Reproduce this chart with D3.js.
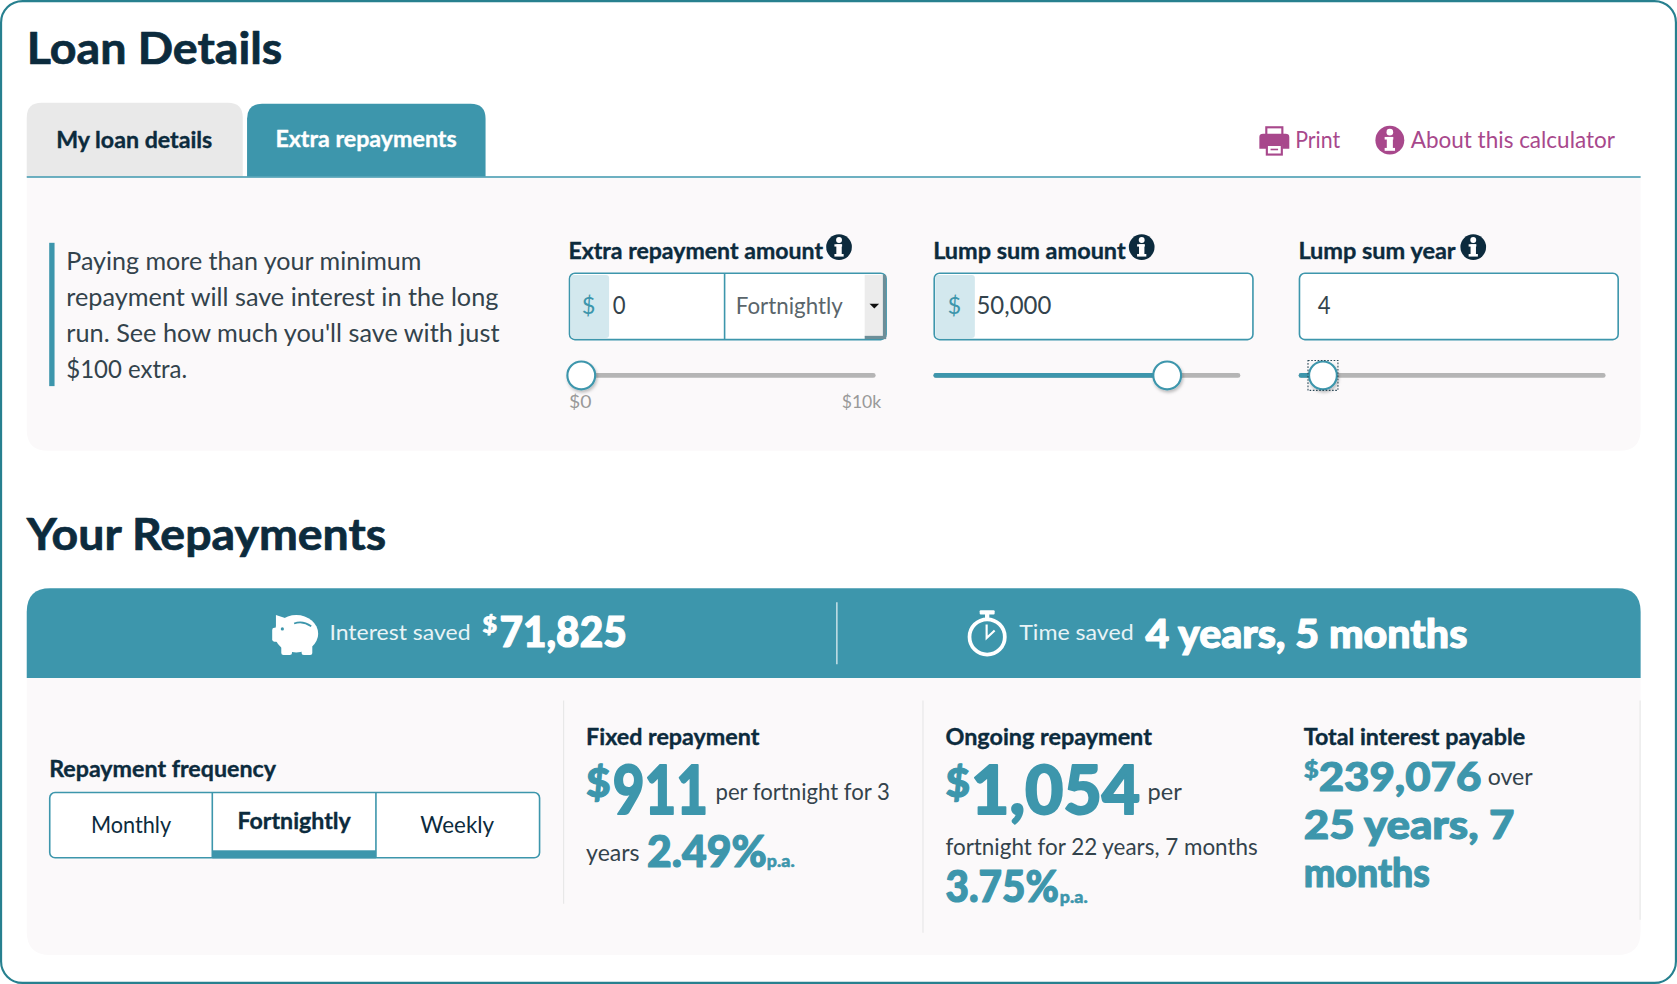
<!DOCTYPE html>
<html>
<head>
<meta charset="utf-8">
<title>Loan Details</title>
<script src="https://cdn.jsdelivr.net/npm/d3@7"></script>
<style>
  html, body { margin: 0; padding: 0; background: #fff; }
  svg { display: block; }
  text { font-family: Lato, "Open Sans", sans-serif; }
</style>
</head>
<body>
<div id="chart"></div>
<script>
// values
var tabNames = ["My loan details", "Extra repayments"];
var linkNames = ["Print", "About this calculator"];
var introLines = [
  "Paying more than your minimum",
  "repayment will save interest in the long",
  "run. See how much you'll save with just",
  "$100 extra."
];
var fieldNames = ["Extra repayment amount", "Lump sum amount", "Lump sum year"];
var fieldValues = [0, 50000, 4];
var sliderMins = [0, 0, 3];
var sliderMaxes = [10000, 63700, 27];
var sliderEnds = ["$0", "$10k"];
var frequencies = ["Monthly", "Fortnightly", "Weekly"];
var interestSaved = 71825;
var timeSaved = "4 years, 5 months";
var fixedRepayment = 911;
var fixedRate = 2.49;
var ongoingRepayment = 1054;
var ongoingRate = 3.75;
var totalInterest = 239076;
var totalTerm = ["25 years, 7", "months"];

var teal = "#3d96ac";
var navy = "#0c2b3d";
var body = "#33434c";
var pink = "#a8488c";
var panel = "#fbf9fa";
var money = d3.format(",");

// everything below is laid out on the 1568 wide grid
var svg = d3.select("#chart").append("svg")
  .attr("width", 1677)
  .attr("height", 984)
  .attr("viewBox", "0 0 1568 920");

var defs = svg.append("defs");
defs.append("filter").attr("id", "knob")
  .attr("x", "-40%").attr("y", "-40%").attr("width", "180%").attr("height", "180%")
  .append("feDropShadow")
  .attr("dx", 1).attr("dy", 2).attr("stdDeviation", 1.5)
  .attr("flood-color", "#000").attr("flood-opacity", 0.25);

function label(str, x, y, w, size, weight, fill) {
  var t = svg.append("text")
    .attr("x", x)
    .attr("y", y)
    .attr("font-size", size)
    .attr("font-weight", weight)
    .attr("fill", fill)
    .text(str);
  if (w) t.attr("textLength", w).attr("lengthAdjust", "spacingAndGlyphs");
  // Lato stops short of the reference's weight, so fatten the heavy texts
  if (weight > 400) {
    t.attr("stroke", fill)
      .attr("stroke-width", size * (weight > 700 ? 0.028 : 0.016))
      .attr("stroke-linejoin", "round");
  }
  return t;
}

function box(x, y, w, h, fill, r) {
  return svg.append("rect")
    .attr("x", x).attr("y", y).attr("width", w).attr("height", h)
    .attr("rx", r || 0)
    .attr("fill", fill);
}

// rectangle with only the top or bottom corners rounded
function halfRound(x, y, w, h, r, top) {
  if (top) {
    return `M${x},${y + h}V${y + r}Q${x},${y} ${x + r},${y}H${x + w - r}Q${x + w},${y} ${x + w},${y + r}V${y + h}Z`;
  }
  return `M${x},${y}H${x + w}V${y + h - r}Q${x + w},${y + h} ${x + w - r},${y + h}H${x + r}Q${x},${y + h} ${x},${y + h - r}Z`;
}

function infoIcon(cx, cy, r, fill) {
  svg.append("circle").attr("cx", cx).attr("cy", cy).attr("r", r).attr("fill", fill);
  svg.append("circle").attr("cx", cx).attr("cy", cy - r * 0.55).attr("r", r * 0.23).attr("fill", "#fff");
  box(cx - r * 0.21, cy - r * 0.22, r * 0.42, r * 0.9, "#fff");
  box(cx - r * 0.36, cy - r * 0.22, r * 0.6, r * 0.18, "#fff");
  box(cx - r * 0.36, cy + r * 0.54, r * 0.72, r * 0.2, "#fff");
}

// outer frame
svg.append("rect")
  .attr("x", 1).attr("y", 1).attr("width", 1566).attr("height", 918)
  .attr("rx", 20)
  .attr("fill", "#fff")
  .attr("stroke", "#27808f")
  .attr("stroke-width", 2);

label("Loan Details", 25, 60, 239, 41, 700, navy);

// tabs
svg.append("path").attr("d", halfRound(25, 96, 202, 69, 14, true)).attr("fill", "#e9e9e9");
svg.append("path").attr("d", halfRound(231, 97, 223, 68, 14, true)).attr("fill", teal);
label(tabNames[0], 52.5, 138, 146, 20.5, 700, navy);
label(tabNames[1], 257.5, 137.5, 169.5, 20.5, 700, "#fff");

// print icon
box(1184, 119, 15, 8, "none").attr("stroke", pink).attr("stroke-width", 2);
svg.append("path")
  .attr("d", "M1181,125H1202Q1205.5,125 1205.5,128V139H1199V135H1184V139H1177.5V128Q1177.5,125 1181,125Z")
  .attr("fill", pink);
box(1184.5, 135.5, 14, 9, "#fff").attr("stroke", pink).attr("stroke-width", 2);
box(1188, 139, 7, 1.5, pink);
label(linkNames[0], 1211, 138, 42, 21.5, 400, pink);
infoIcon(1299.5, 131, 13.5, pink);
label(linkNames[1], 1319, 138, 191, 21.5, 400, pink);

svg.append("line")
  .attr("x1", 25).attr("x2", 1534).attr("y1", 165.5).attr("y2", 165.5)
  .attr("stroke", teal).attr("stroke-width", 1.5);

// upper panel
svg.append("path").attr("d", halfRound(25, 166.5, 1509, 255, 20, false)).attr("fill", panel);
box(46, 227, 5, 134, teal);
var introWidths = [332, 404, 405, 113];
var introBase = d3.scalePoint().domain(d3.range(introLines.length)).range([252, 353]);
introLines.forEach(function (line, i) {
  label(line, 62, introBase(i), introWidths[i], 23.5, 400, body);
});

// input fields with their sliders
var fieldX = [532, 873, 1214.5];
var fieldW = [296, 298, 298];
var nameW = [238, 180, 147];
var iconX = [784.5, 1067.5, 1377.5];
var valueX = [573, 913, 1232];
var valueW = [12, 70, 12];
var trackW = 286.5;

fieldNames.forEach(function (name, i) {
  var x = fieldX[i];
  label(name, x - 0.5, 242.5, nameW[i], 20.5, 700, navy);
  infoIcon(iconX[i], 231, 12, navy);

  box(x + 0.5, 255.5, fieldW[i], 62, "#fff", 5).attr("stroke", teal).attr("stroke-width", 1.5);
  if (i < 2) {
    box(x + 1.5, 257, i === 0 ? 36 : 37, 59, "#d3e8ee", 3);
    label("$", x + (i === 0 ? 12 : 13), 294, 0, 22, 400, teal);
  }
  label(money(fieldValues[i]), valueX[i], 294, valueW[i], 22.5, 400, body);

  // slider, the knob travels inside the track by its own radius
  var knobR = 13;
  var sx = d3.scaleLinear()
    .domain([sliderMins[i], sliderMaxes[i]])
    .range([x + knobR - 1.5, x + trackW - knobR + 1.5]);
  var kx = sx(fieldValues[i]);
  svg.append("line")
    .attr("x1", x + 2).attr("x2", x + trackW - 2).attr("y1", 351).attr("y2", 351)
    .attr("stroke", "#b5b5b5").attr("stroke-width", 4.5).attr("stroke-linecap", "round");
  svg.append("line")
    .attr("x1", x + 2).attr("x2", kx).attr("y1", 351).attr("y2", 351)
    .attr("stroke", teal).attr("stroke-width", 4.5).attr("stroke-linecap", "round");
  svg.append("circle")
    .attr("cx", kx).attr("cy", 351).attr("r", knobR)
    .attr("fill", "#fff")
    .attr("stroke", teal).attr("stroke-width", 2)
    .attr("filter", "url(#knob)");
  if (i === 2) {
    svg.append("rect")
      .attr("x", kx - 14).attr("y", 337).attr("width", 28).attr("height", 28)
      .attr("fill", "none")
      .attr("stroke", "#2c4a58").attr("stroke-width", 1)
      .attr("stroke-dasharray", "1.5,1.5");
  }
});

// the select inside the first field
svg.append("line")
  .attr("x1", 677.5).attr("x2", 677.5).attr("y1", 256).attr("y2", 317)
  .attr("stroke", teal).attr("stroke-width", 1.5);
label(frequencies[1], 688, 294, 100, 22, 400, "#5a656b");
box(808.5, 257, 18, 58, "#ececec");
box(825.5, 257, 3, 60, "#6d8e98");
box(808.5, 314, 20, 3, "#6d8e98");
svg.append("path").attr("d", "M813,284H822L817.5,288.5Z").attr("fill", "#111");

label(sliderEnds[0], 532, 381, 21, 17, 400, "#999");
label(sliderEnds[1], 787, 381, 37, 17, 400, "#999");

label("Your Repayments", 25, 514, 336, 41, 700, navy);

// banner
svg.append("path").attr("d", halfRound(25, 550, 1509, 84, 22, true)).attr("fill", teal);
svg.append("line")
  .attr("x1", 782.5).attr("x2", 782.5).attr("y1", 563).attr("y2", 621)
  .attr("stroke", "#fff").attr("stroke-width", 1);

// piggy
svg.append("ellipse").attr("cx", 277).attr("cy", 592.5).attr("rx", 20.5).attr("ry", 17.5).attr("fill", "#fff");
svg.append("path").attr("d", "M258,575L270,579L264,592H258Z").attr("fill", "#fff");
box(254.5, 587, 8, 13, "#fff", 2);
box(263, 603, 10, 9.5, "#fff", 2);
box(282, 603, 10, 9.5, "#fff", 2);
svg.append("circle").attr("cx", 264).attr("cy", 588).attr("r", 1.5).attr("fill", teal);
svg.append("path").attr("d", "M275,583Q283,580 291,585.5").attr("fill", "none").attr("stroke", teal).attr("stroke-width", 1.5);
label("Interest saved", 308, 598.5, 132, 20.5, 400, "#e8f3f6");
label("$", 451, 592, 14, 22, 900, "#fff");
label(money(interestSaved), 467, 605, 119, 39, 900, "#fff");

// stopwatch
svg.append("circle").attr("cx", 923).attr("cy", 595.5).attr("r", 16.5)
  .attr("fill", "none").attr("stroke", "#fff").attr("stroke-width", 3.5);
box(916, 570.5, 14, 4, "#fff", 1);
box(921, 574, 4, 6, "#fff");
svg.append("path").attr("d", "M922.5,584V596.5L930,589.5").attr("fill", "none").attr("stroke", "#fff").attr("stroke-width", 2);
label("Time saved", 953, 598.5, 107, 20.5, 400, "#e8f3f6");
label(timeSaved, 1071, 606, 301, 37, 900, "#fff");

// lower panel
svg.append("path").attr("d", halfRound(25, 634, 1509, 259, 22, false)).attr("fill", panel);

label("Repayment frequency", 46, 726.5, 212, 20.5, 700, navy);

var freqX = d3.scaleBand().domain(frequencies).range([45.5, 504.5]);
box(46.5, 741, 458, 61, "#fff", 5).attr("stroke", teal).attr("stroke-width", 1.5);
box(freqX(frequencies[1]), 795, freqX.bandwidth(), 7.5, teal);
frequencies.slice(1).forEach(function (f) {
  svg.append("line")
    .attr("x1", freqX(f)).attr("x2", freqX(f)).attr("y1", 741).attr("y2", 802)
    .attr("stroke", teal).attr("stroke-width", 1.5);
});
var freqLeft = [85, 222, 393];
var freqW = [75, 106, 69];
frequencies.forEach(function (f, i) {
  var active = i === 1;
  label(f, freqLeft[i], active ? 775.5 : 779, freqW[i], 21.5, active ? 700 : 400, navy);
});

// separators
[[527, 655, 845], [863, 655, 872], [1533.5, 655, 860]].forEach(function (s) {
  svg.append("line")
    .attr("x1", s[0]).attr("x2", s[0]).attr("y1", s[1]).attr("y2", s[2])
    .attr("stroke", "#e6e6e6").attr("stroke-width", 1);
});

// fixed repayment
label("Fixed repayment", 548, 697, 162, 20.5, 700, navy);
label("$", 548, 745, 23, 38, 900, teal);
label(money(fixedRepayment), 573, 761, 89, 63, 900, teal);
label("per fortnight for 3", 669, 748, 163, 21.5, 400, body);
label("years", 548, 805, 50, 21.5, 400, body);
label(fixedRate + "%", 605, 811, 112, 41, 900, teal);
label("p.a.", 717, 811, 26, 15.5, 900, teal);

// ongoing repayment
label("Ongoing repayment", 884, 697, 193, 20.5, 700, navy);
label("$", 884, 745, 23, 38, 900, teal);
label(money(ongoingRepayment), 908, 761, 158, 63, 900, teal);
label("per", 1073, 748, 32, 21.5, 400, body);
label("fortnight for 22 years, 7 months", 884, 799, 292, 21.5, 400, body);
label(ongoingRate + "%", 884, 843, 106, 41, 900, teal);
label("p.a.", 991, 844, 26, 15.5, 900, teal);

// total interest
label("Total interest payable", 1219, 697, 207, 20.5, 700, navy);
label("$", 1219, 727, 14, 21, 900, teal);
label(money(totalInterest), 1233, 740, 152, 38, 900, teal);
label("over", 1391, 734, 42, 21.5, 400, body);
label(totalTerm[0], 1219, 784, 197, 38, 900, teal);
label(totalTerm[1], 1219, 829, 118, 38, 900, teal);
</script>
</body>
</html>
